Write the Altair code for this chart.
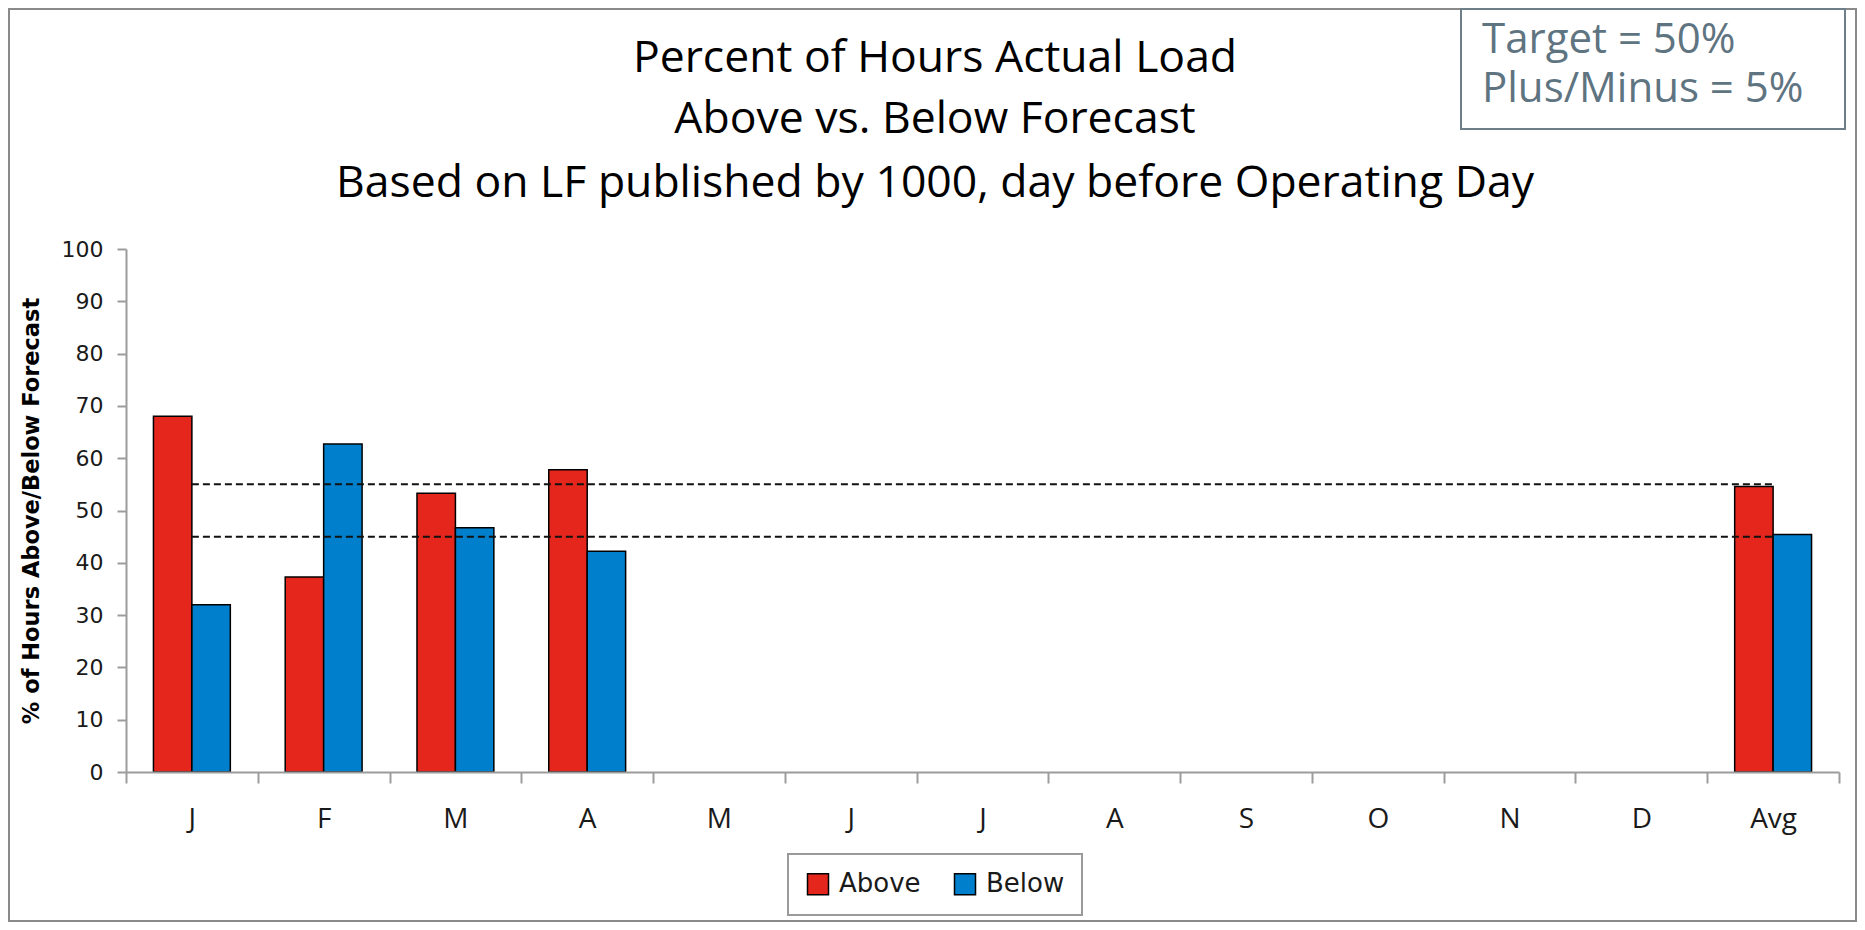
import json
import altair as alt
import pandas as pd

# ---------------- data ----------------
CATS = ["Jan", "Feb", "Mar", "Apr", "May", "Jun", "Jul", "Aug", "Sep", "Oct", "Nov", "Dec", "Avg"]
TICK_LABELS = ["J", "F", "M", "A", "M", "J", "J", "A", "S", "O", "N", "D", "Avg"]
SERIES = ["Above", "Below"]
ABOVE = [68.0, 37.3, 53.3, 57.8, None, None, None, None, None, None, None, None, 54.6]
BELOW = [32.0, 62.7, 46.7, 42.2, None, None, None, None, None, None, None, None, 45.4]
UPPER = [55, 55, 55, 55, 55, 55, 55, 55, 55, 55, 55, 55, 55]
LOWER = [45, 45, 45, 45, 45, 45, 45, 45, 45, 45, 45, 45, 45]
Y_TICKS = [0, 10, 20, 30, 40, 50, 60, 70, 80, 90, 100]
TITLE_LINES = [
    "Percent of Hours Actual Load",
    "Above vs. Below Forecast",
    "Based on LF published by 1000, day before Operating Day",
]
NOTE_LINES = ["Target = 50%", "Plus/Minus = 5%"]
Y_TITLE = "% of Hours Above/Below Forecast"

COLORS = ["#e4261d", "#0080cc"]
AXIS_GRAY = "#9c9c9c"

rows = []
for c, a, b in zip(CATS, ABOVE, BELOW):
    if a is not None:
        rows.append({"month": c, "series": "Above", "value": a})
    if b is not None:
        rows.append({"month": c, "series": "Below", "value": b})
bars_df = pd.DataFrame(rows)

line_rows = []
for c, u, l in zip(CATS, UPPER, LOWER):
    line_rows.append({"month": c, "level": "upper", "value": u})
    line_rows.append({"month": c, "level": "lower", "value": l})
lines_df = pd.DataFrame(line_rows)

one = pd.DataFrame({"k": [0]})

# ---------------- layout ----------------
W, H = 1713, 523
PAD_L, PAD_T = 118, 241
TOTAL_W, TOTAL_H = 1849, 914
PAD_R = TOTAL_W - PAD_L - W
PAD_B = TOTAL_H - PAD_T - H
TITLE_X = 809  # centre of the title block, relative to the plot's left edge
TITLE_BASELINES = [-177, -116, -52]

label_expr = f"{json.dumps(TICK_LABELS)}[indexof({json.dumps(CATS)}, datum.value)]"

x_scale = alt.Scale(domain=CATS, paddingInner=0, paddingOuter=0)
x_axis = alt.Axis(
    title=None,
    labelExpr=label_expr,
    labelAngle=0,
    tickBand="extent",
    tickSize=11,
    tickWidth=2,
    tickColor=AXIS_GRAY,
    domainColor=AXIS_GRAY,
    domainWidth=2,
    labelFont="Open Sans",
    labelFontSize=28,
    labelColor="#1a1a1a",
    labelPadding=22,
    grid=False,
    zindex=1,
)
y_axis = alt.Axis(
    values=Y_TICKS,
    title=Y_TITLE,
    titleFont="DejaVu Sans",
    titleFontSize=22.5,
    titleFontWeight="bold",
    titleColor="black",
    titlePadding=18,
    labelFont="DejaVu Sans",
    labelFontSize=22,
    labelColor="#1a1a1a",
    labelPadding=14,
    tickSize=9,
    tickWidth=2,
    tickColor=AXIS_GRAY,
    domainColor=AXIS_GRAY,
    domainWidth=2,
    grid=False,
    zindex=0,
)

border = alt.Chart(one).mark_rect(fillOpacity=0, stroke="#8a8a8a", strokeWidth=2).encode(
    x=alt.value(-PAD_L + 1),
    x2=alt.value(TOTAL_W - PAD_L - 1),
    y=alt.value(-PAD_T + 1),
    y2=alt.value(TOTAL_H - PAD_T - 1),
)

bars = alt.Chart(bars_df).mark_bar(stroke="black", strokeWidth=1.5).encode(
    x=alt.X("month:N", scale=x_scale, sort=CATS, axis=x_axis),
    xOffset=alt.XOffset(
        "series:N", scale=alt.Scale(domain=SERIES, paddingInner=0, paddingOuter=0.714)
    ),
    y=alt.Y("value:Q", scale=alt.Scale(domain=[0, 100], nice=False), axis=y_axis),
    color=alt.Color(
        "series:N",
        scale=alt.Scale(domain=SERIES, range=COLORS),
        legend=alt.Legend(
            title=None,
            orient="none",
            legendX=662,
            legendY=605,
            direction="horizontal",
            symbolType="square",
            symbolSize=441,
            symbolStrokeColor="black",
            symbolStrokeWidth=1.5,
            labelFont="DejaVu Sans",
            labelFontSize=26,
            labelColor="#1a1a1a",
            labelOffset=8,
            columnPadding=30,
            padding=17,
            strokeColor="#9a9a9a",
            fillColor="white",
        ),
    ),
)

lines = alt.Chart(lines_df).mark_line(color="#111111", strokeWidth=2, strokeDash=[7, 4]).encode(
    x=alt.X("month:N", scale=x_scale, sort=CATS),
    y=alt.Y("value:Q"),
    detail="level:N",
)

note_box = alt.Chart(one).mark_rect(fill="white", stroke="#6e7f8a", strokeWidth=2).encode(
    x=alt.value(1335),
    x2=alt.value(1719),
    y=alt.value(-PAD_T + 1),
    y2=alt.value(-120),
)
note_layers = [
    alt.Chart(one).mark_text(
        align="left", baseline="alphabetic", font="Open Sans", fontSize=42, color="#5f7481"
    ).encode(x=alt.value(1356), y=alt.value(yb), text=alt.value(t))
    for t, yb in zip(NOTE_LINES, [-196, -147])
]
title_layers = [
    alt.Chart(one).mark_text(
        align="center", baseline="alphabetic", font="Open Sans", fontSize=44.5, color="black"
    ).encode(x=alt.value(TITLE_X), y=alt.value(yb), text=alt.value(t))
    for t, yb in zip(TITLE_LINES, TITLE_BASELINES)
]

chart = (
    alt.layer(border, bars, lines, note_box, *note_layers, *title_layers)
    .properties(
        width=W,
        height=H,
        autosize="none",
        background="white",
        padding={"left": PAD_L, "top": PAD_T, "right": PAD_R, "bottom": PAD_B},
    )
    .configure_view(strokeWidth=0, stroke="transparent")
    .configure_legend(strokeWidth=2)
)

chart.save("out.html", embed_options={"renderer": "svg", "actions": False})
